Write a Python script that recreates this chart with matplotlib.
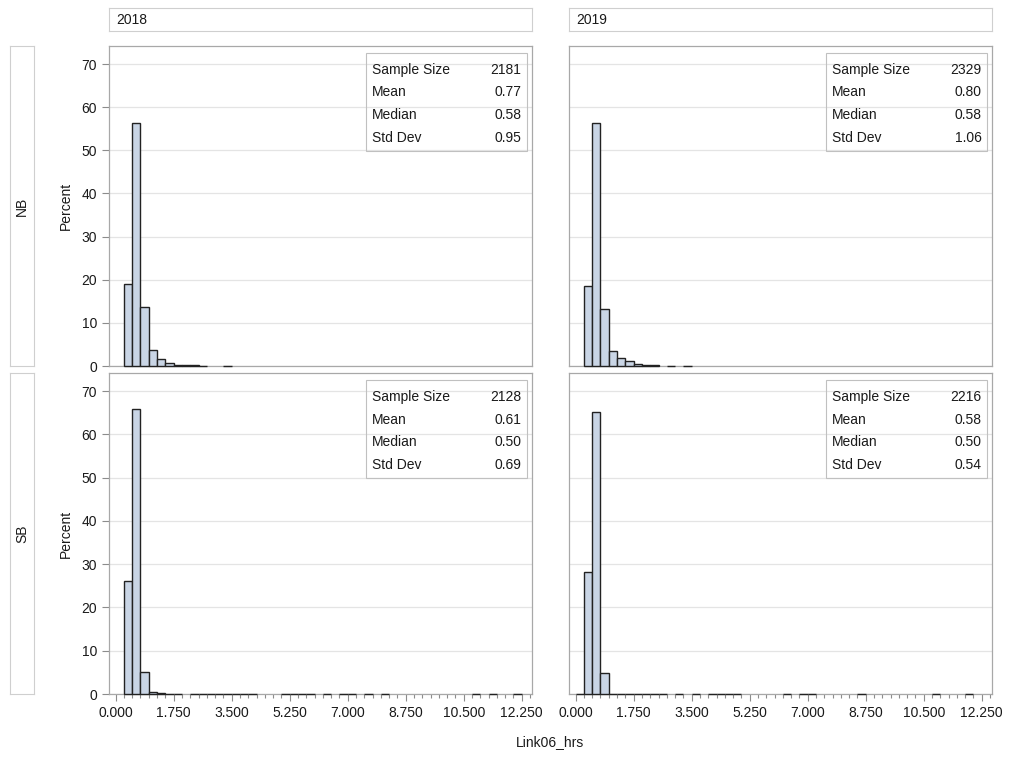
import numpy as np
import matplotlib
matplotlib.use("Agg")
from matplotlib import pyplot as plt
from matplotlib.ticker import MultipleLocator

plt.rcParams['font.family'] = ['Liberation Sans', 'DejaVu Sans']
plt.rcParams['font.size'] = 10

# Histogram bins: width 0.25 hrs, starting at 0
bin_width = 0.25
n_bins = 49
years = ['2018', '2019']
directions = ['NB', 'SB']

# Percent per bin (index i -> bin [0.25*i, 0.25*(i+1)))
nb_2018 = [0, 19.1, 56.4, 13.6, 3.8, 1.7, 0.6, 0.3, 0.2, 0.2, 0.1, 0, 0, 0.1] + [0] * 35
nb_2019 = [0, 18.6, 56.4, 13.2, 3.4, 1.9, 1.1, 0.4, 0.3, 0.2, 0, 0.1, 0, 0.1] + [0] * 35
sb_2018 = [0, 26.2, 65.9, 5.2, 0.5, 0.2, 0.1, 0.1, 0,
           0.1, 0.1, 0.1, 0.1, 0.1, 0.1, 0.1, 0.1, 0, 0, 0,
           0.05, 0.05, 0.05, 0.05, 0, 0.05, 0, 0.05, 0.05, 0, 0.05, 0, 0.05,
           0, 0, 0, 0, 0, 0, 0, 0, 0, 0, 0.05, 0, 0.05, 0, 0, 0.05]
sb_2019 = [0.1, 28.2, 65.1, 4.9, 0.1, 0.1, 0.1, 0.1, 0.1, 0.1, 0.1, 0,
           0.05, 0, 0.05, 0, 0.05, 0.05, 0.05, 0.05, 0, 0, 0, 0, 0,
           0.05, 0, 0.05, 0.05, 0, 0, 0, 0, 0, 0.05, 0, 0, 0, 0, 0, 0, 0, 0,
           0.05, 0, 0, 0, 0.05, 0]
percents = {('NB', '2018'): nb_2018, ('NB', '2019'): nb_2019,
            ('SB', '2018'): sb_2018, ('SB', '2019'): sb_2019}

# Summary statistics shown in each panel
stat_names = ['Sample Size', 'Mean', 'Median', 'Std Dev']
stats = {('NB', '2018'): ['2181', '0.77', '0.58', '0.95'],
         ('NB', '2019'): ['2329', '0.80', '0.58', '1.06'],
         ('SB', '2018'): ['2128', '0.61', '0.50', '0.69'],
         ('SB', '2019'): ['2216', '0.58', '0.50', '0.54']}

x_ticks = np.arange(0, 12.26, 1.75)
y_ticks = np.arange(0, 71, 10)

W, H = 1013, 759
fig = plt.figure(figsize=(W / 100, H / 100), dpi=100)
txt_color = '#1a1a1a'


def px_axes(x0, y0, x1, y1):
    return fig.add_axes([x0 / W, 1 - y1 / H, (x1 - x0) / W, (y1 - y0) / H])


def strip(x0, y0, x1, y1, text, vertical=False):
    sa = px_axes(x0, y0, x1, y1)
    sa.set_xticks([])
    sa.set_yticks([])
    for s in sa.spines.values():
        s.set_color('#cfcfcf')
        s.set_linewidth(0.8)
    if vertical:
        sa.text(0.5, 0.5, text, rotation=90, ha='center', va='center',
                transform=sa.transAxes, color=txt_color)
    else:
        sa.text(7 / (x1 - x0), 0.5, text, ha='left', va='center',
                transform=sa.transAxes, color=txt_color)


col_x = [(109, 532), (569, 992)]
row_y = [(46, 366), (373, 694)]

for c, yr in enumerate(years):
    strip(col_x[c][0], 8, col_x[c][1], 31, yr)
for r, d in enumerate(directions):
    strip(10, row_y[r][0], 34, row_y[r][1], d, vertical=True)

edges = np.arange(n_bins) * bin_width

for r, d in enumerate(directions):
    for c, yr in enumerate(years):
        ax = px_axes(col_x[c][0], row_y[r][0], col_x[c][1], row_y[r][1])
        vals = np.array(percents[(d, yr)])
        keep = vals > 0
        # bars over the spines, unclipped, so tiny bins show as black dashes
        ax.bar(edges[keep], vals[keep], width=bin_width, align='edge',
               color='#c9d5e5', edgecolor='#222222', linewidth=1.0,
               zorder=3, clip_on=False)
        ax.set_xlim(-0.2, 12.56)
        ax.set_ylim(0, 74.2)
        ax.set_yticks(y_ticks)
        ax.set_xticks(x_ticks)
        ax.xaxis.set_minor_locator(MultipleLocator(0.25))
        ax.grid(axis='y', color='#e4e4e4', linewidth=0.9, zorder=0)
        ax.set_axisbelow(True)
        for s in ax.spines.values():
            s.set_color('#a8a8a8')
            s.set_linewidth(0.9)
        ax.tick_params(axis='both', colors='#8c8c8c', labelcolor=txt_color,
                       length=5, width=0.8, labelsize=10)
        ax.tick_params(axis='x', which='minor', colors='#8c8c8c',
                       length=3, width=0.8)
        if r == 0:
            ax.tick_params(axis='x', which='both', bottom=False, labelbottom=False)
        else:
            ax.set_xticklabels(['%.3f' % t for t in x_ticks])
        if c == 1:
            ax.tick_params(axis='y', left=False, labelleft=False)
        else:
            ax.set_ylabel('Percent', labelpad=6, color=txt_color)

        # statistics inset
        ax.add_patch(plt.Rectangle((0.607, 0.672), 0.381, 0.306,
                                   transform=ax.transAxes, fill=False,
                                   edgecolor='#c0c0c0', linewidth=0.8, zorder=3))
        row_pos = [0.925, 0.855, 0.785, 0.713]
        for name, val, yp in zip(stat_names, stats[(d, yr)], row_pos):
            ax.text(0.622, yp, name, transform=ax.transAxes, ha='left',
                    va='center', color=txt_color, zorder=4)
            ax.text(0.975, yp, val, transform=ax.transAxes, ha='right',
                    va='center', color=txt_color, zorder=4)

fig.text(550 / W, 1 - 742 / H, 'Link06_hrs', ha='center', va='center',
         color=txt_color)

fig.savefig('out.png', dpi=100)
